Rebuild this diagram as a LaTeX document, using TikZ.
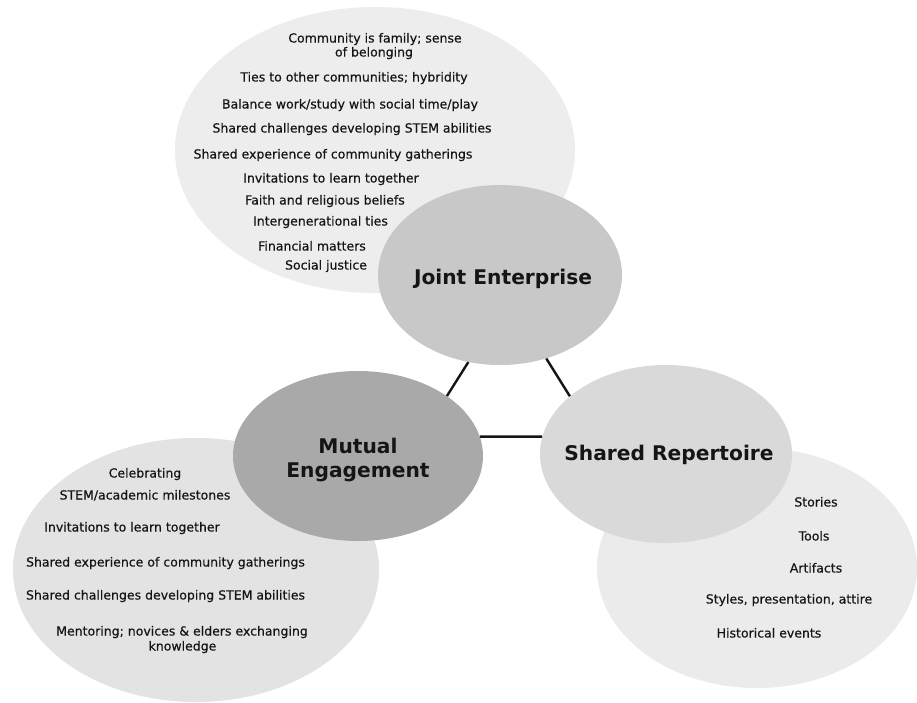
\documentclass[tikz,border=0pt]{standalone}
\usepackage{fontspec}
\setmainfont{DejaVu Sans}
\newfontfamily\itemfont[FakeBold=0.4]{DejaVu Sans}
\usetikzlibrary{shapes.geometric}

\definecolor{ink}{HTML}{151515}
\definecolor{palefill}{HTML}{EDEDED}
\definecolor{palefillB}{HTML}{E3E3E3}
\definecolor{palefillC}{HTML}{EBEBEB}
\definecolor{jefill}{HTML}{C8C8C8}
\definecolor{mefill}{HTML}{A9A9A9}
\definecolor{srfill}{HTML}{D9D9D9}

\begin{document}
\begin{tikzpicture}[x=1pt,y=-1pt,
  blob/.style={ellipse, draw=none, inner sep=0pt},
  item/.style={anchor=base, inner sep=0pt, text=ink,
    font=\itemfont\fontsize{12.5}{15}\selectfont},
  title/.style={inner sep=0pt, text=ink, align=center,
    font=\fontsize{20.2}{24}\selectfont\bfseries},
  link/.style={draw=ink, line width=2.4pt}
]
\useasboundingbox (0,0) rectangle (917,702);
\fill[white] (0,0) rectangle (917,702);

% pale background ovals holding the item lists
\node[blob, fill=palefill,  minimum width=400pt, minimum height=286pt] (topoval) at (375,150) {};
\node[blob, fill=palefillB, minimum width=366pt, minimum height=264pt] (leftoval) at (196,570) {};
\node[blob, fill=palefillC, minimum width=320pt, minimum height=240pt] (rightoval) at (757,568) {};

% the three core ovals
\node[blob, fill=jefill, minimum width=244pt, minimum height=180pt] (je) at (500,275) {};
\node[blob, fill=mefill, minimum width=250pt, minimum height=170pt] (me) at (358,456) {};
\node[blob, fill=srfill, minimum width=252pt, minimum height=178pt] (sr) at (666,454) {};

% connectors between the core ovals
\draw[link] (je.250) -- (me.34);
\draw[link] (je.299.5) -- (sr.149);
\draw[link] (me.9) -- (sr.172);

% titles
\node[title, anchor=base] (jetitle) at (503,284) {Joint Enterprise};
\node[title] (metitle) at (358,460) {Mutual\\Engagement};
\node[title, anchor=base] (srtitle) at (669,460) {Shared Repertoire};

% joint enterprise items
\node[item] (ja) at (375,42.5) {Community is family; sense};
\node[item] (jb) at (374,56.5) {of belonging};
\node[item] (jc) at (354,81.5) {Ties to other communities; hybridity};
\node[item] (jd) at (350,108.5) {Balance work/study with social time/play};
\node[item] (je1) at (352,132.5) {Shared challenges developing STEM abilities};
\node[item] (jf) at (333,158.5) {Shared experience of community gatherings};
\node[item] (jg) at (331,182.5) {Invitations to learn together};
\node[item] (jh) at (325,204.5) {Faith and religious beliefs};
\node[item] (ji) at (320.5,225.5) {Intergenerational ties};
\node[item] (jj) at (312,250.5) {Financial matters};
\node[item] (jk) at (326,269.5) {Social justice};

% mutual engagement items
\node[item] (ma) at (145,477.5) {Celebrating};
\node[item] (mb) at (145,499.5) {STEM/academic milestones};
\node[item] (mc) at (132,531.5) {Invitations to learn together};
\node[item] (md) at (165.5,566.5) {Shared experience of community gatherings};
\node[item] (mf) at (165.5,599.5) {Shared challenges developing STEM abilities};
\node[item] (mg) at (182,635.5) {Mentoring; novices \& elders exchanging};
\node[item] (mh) at (182.5,650.5) {knowledge};

% shared repertoire items
\node[item] (sa) at (816,506.5) {Stories};
\node[item] (sb) at (814,540.5) {Tools};
\node[item] (sc) at (816,572.5) {Artifacts};
\node[item] (sd) at (789,603.5) {Styles, presentation, attire};
\node[item] (sf) at (769,637.5) {Historical events};
\end{tikzpicture}
\end{document}
